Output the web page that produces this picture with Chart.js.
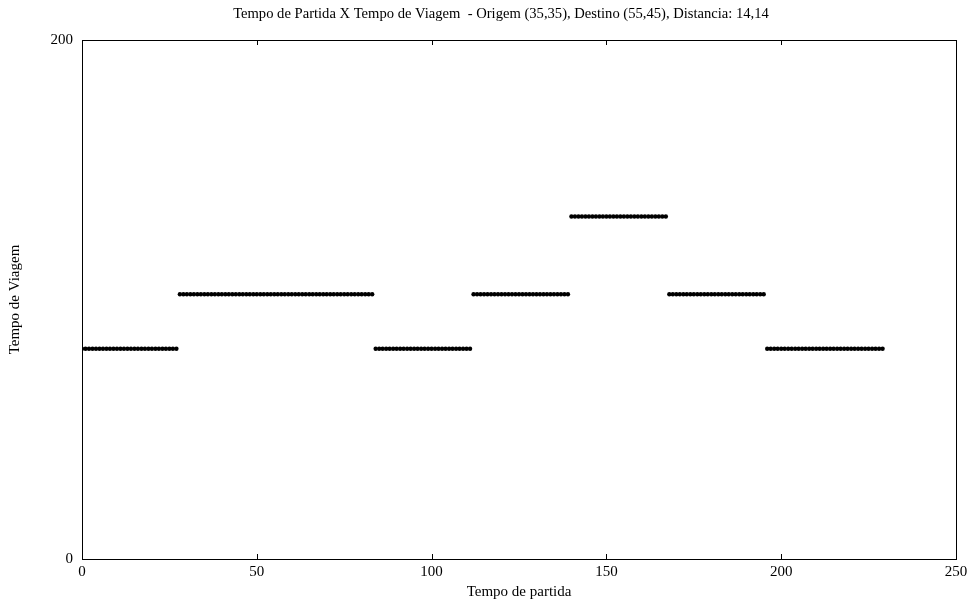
<!DOCTYPE html>
<html>
<head>
<meta charset="utf-8">
<script src="https://cdn.jsdelivr.net/npm/chart.js@4.4.0/dist/chart.umd.min.js"></script>
<style>
  html, body { margin: 0; padding: 0; background: #fff; }
  #wrap { width: 972px; height: 603px; position: relative; }
</style>
</head>
<body>
<div id="wrap"><canvas id="c"></canvas></div>
<script>
const chartTitle = 'Tempo de Partida X Tempo de Viagem  - Origem (35,35), Destino (55,45), Distancia: 14,14';
const xTitle = 'Tempo de partida';
const yTitle = 'Tempo de Viagem';

const tempoPartida = [
  0,1,2,3,4,5,6,7,8,9,
  10,11,12,13,14,15,16,17,18,19,
  20,21,22,23,24,25,26,27,28,29,
  30,31,32,33,34,35,36,37,38,39,
  40,41,42,43,44,45,46,47,48,49,
  50,51,52,53,54,55,56,57,58,59,
  60,61,62,63,64,65,66,67,68,69,
  70,71,72,73,74,75,76,77,78,79,
  80,81,82,83,84,85,86,87,88,89,
  90,91,92,93,94,95,96,97,98,99,
  100,101,102,103,104,105,106,107,108,109,
  110,111,112,113,114,115,116,117,118,119,
  120,121,122,123,124,125,126,127,128,129,
  130,131,132,133,134,135,136,137,138,139,
  140,141,142,143,144,145,146,147,148,149,
  150,151,152,153,154,155,156,157,158,159,
  160,161,162,163,164,165,166,167,168,169,
  170,171,172,173,174,175,176,177,178,179,
  180,181,182,183,184,185,186,187,188,189,
  190,191,192,193,194,195,196,197,198,199,
  200,201,202,203,204,205,206,207,208,209,
  210,211,212,213,214,215,216,217,218,219,
  220,221,222,223,224,225,226,227,228,229
];

const tempoViagem = [
  // 0-27
  81,81,81,81,81,81,81, 81,81,81,81,81,81,81,
  81,81,81,81,81,81,81, 81,81,81,81,81,81,81,
  // 28-83
  102,102,102,102,102,102,102, 102,102,102,102,102,102,102,
  102,102,102,102,102,102,102, 102,102,102,102,102,102,102,
  102,102,102,102,102,102,102, 102,102,102,102,102,102,102,
  102,102,102,102,102,102,102, 102,102,102,102,102,102,102,
  // 84-111
  81,81,81,81,81,81,81, 81,81,81,81,81,81,81,
  81,81,81,81,81,81,81, 81,81,81,81,81,81,81,
  // 112-139
  102,102,102,102,102,102,102, 102,102,102,102,102,102,102,
  102,102,102,102,102,102,102, 102,102,102,102,102,102,102,
  // 140-167
  132,132,132,132,132,132,132, 132,132,132,132,132,132,132,
  132,132,132,132,132,132,132, 132,132,132,132,132,132,132,
  // 168-195
  102,102,102,102,102,102,102, 102,102,102,102,102,102,102,
  102,102,102,102,102,102,102, 102,102,102,102,102,102,102,
  // 196-229
  81,81,81,81,81,81,81, 81,81,81,81,81,81,81,
  81,81,81,81,81,81,81, 81,81,81,81,81,81,81,
  81,81,81,81,81,81
];

const xTicks = [0, 50, 100, 150, 200, 250];
const yTicks = [0, 200];

const FONT = '"Liberation Serif", "Times New Roman", serif';

const points = tempoPartida.map((x, i) => ({ x: x, y: tempoViagem[i] }));

const framePlugin = {
  id: 'frame',
  afterDraw(chart) {
    const ctx = chart.ctx;
    const a = chart.chartArea;
    const xs = chart.scales.x, ys = chart.scales.y;
    ctx.save();
    ctx.strokeStyle = '#000';
    ctx.lineWidth = 1;
    ctx.strokeRect(Math.round(a.left) + 0.5, Math.round(a.top) + 0.5,
                   Math.round(a.right - a.left), Math.round(a.bottom - a.top));
    ctx.beginPath();
    xTicks.forEach(v => {
      const p = Math.round(xs.getPixelForValue(v)) + 0.5;
      ctx.moveTo(p, a.bottom); ctx.lineTo(p, a.bottom - 5);
      ctx.moveTo(p, a.top); ctx.lineTo(p, a.top + 5);
    });
    yTicks.forEach(v => {
      const p = Math.round(ys.getPixelForValue(v)) + 0.5;
      ctx.moveTo(a.left, p); ctx.lineTo(a.left + 5, p);
      ctx.moveTo(a.right, p); ctx.lineTo(a.right - 5, p);
    });
    ctx.stroke();
    ctx.fillStyle = '#000';
    ctx.font = '14.6px ' + FONT;
    ctx.textAlign = 'center';
    ctx.textBaseline = 'middle';
    ctx.fillText(chartTitle, 501, 14.5);
    ctx.restore();
  }
};

new Chart(document.getElementById('c'), {
  type: 'scatter',
  data: {
    datasets: [{
      data: points,
      showLine: false,
      pointRadius: 2.2,
      pointBorderWidth: 0,
      pointBackgroundColor: '#000',
      pointBorderColor: '#000'
    }]
  },
  options: {
    responsive: true,
    maintainAspectRatio: false,
    animation: false,
    layout: { padding: { top: 40, right: 16, bottom: 0, left: 0 } },
    plugins: {
      legend: { display: false },
      tooltip: { enabled: false },
      title: { display: false }
    },
    scales: {
      x: {
        type: 'linear',
        min: 0, max: 250,
        afterFit(s) { s.height = 44; },
        afterBuildTicks(s) { s.ticks = xTicks.map(v => ({ value: v })); },
        grid: { display: false, drawTicks: false },
        border: { display: false },
        ticks: { color: '#000', font: { family: FONT, size: 15 }, padding: 4, maxRotation: 0 },
        title: { display: true, text: xTitle, color: '#000', font: { family: FONT, size: 15 }, padding: { top: 0, bottom: 2 } }
      },
      y: {
        type: 'linear',
        min: 0, max: 200,
        afterFit(s) { s.width = 82; },
        afterBuildTicks(s) { s.ticks = yTicks.map(v => ({ value: v })); },
        grid: { display: false, drawTicks: false },
        border: { display: false },
        ticks: { color: '#000', font: { family: FONT, size: 15 }, padding: 9 },
        title: { display: true, text: yTitle, color: '#000', font: { family: FONT, size: 15 }, padding: { top: 6, bottom: 0 } }
      }
    }
  },
  plugins: [framePlugin]
});
</script>
</body>
</html>
